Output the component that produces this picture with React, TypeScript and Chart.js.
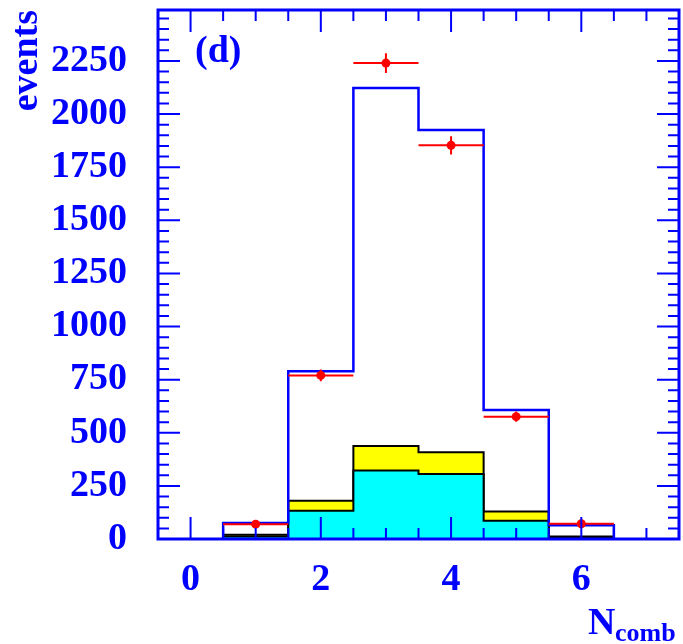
import React, { useEffect, useRef } from "react";
import { Chart, registerables } from "chart.js";

Chart.register(...registerables);

// ---------- data ----------
const binCenters = [1, 2, 3, 4, 5, 6];
const binWidth = 1;
const dataCounts = [70, 770, 2240, 1853, 576, 72];
const dataErrors = [8, 28, 47, 43, 24, 8.5];
const mcTotal = [75, 790, 2123, 1925, 607, 65];
const bkgYellow = [20, 180, 438, 408, 129, 12];
const bkgCyan = [12, 133, 322, 306, 86, 7];
const xTickLabels = [0, 2, 4, 6];
const yTickLabels = [0, 250, 500, 750, 1000, 1250, 1500, 1750, 2000, 2250];
const xRange = [-0.5, 7.5];
const yRange = [0, 2490];

const BLUE = "#0000ff";
const RED = "#ff0000";
const FONT = "'Liberation Serif', 'Times New Roman', serif";

function stepPoints(values: number[]) {
  const pts = [{ x: binCenters[0] - binWidth / 2, y: 0 }];
  values.forEach((v, i) => pts.push({ x: binCenters[i] - binWidth / 2, y: v }));
  pts.push({ x: binCenters[binCenters.length - 1] + binWidth / 2, y: 0 });
  return pts;
}

const errorBarPlugin = {
  id: "errorBars",
  afterDatasetsDraw(chart: any) {
    const { ctx, scales } = chart;
    const x = scales.x;
    const y = scales.y;
    ctx.save();
    ctx.strokeStyle = RED;
    ctx.lineWidth = 2;
    binCenters.forEach((c, i) => {
      const px = x.getPixelForValue(c);
      const py = y.getPixelForValue(dataCounts[i]);
      ctx.beginPath();
      ctx.moveTo(x.getPixelForValue(c - binWidth / 2), py);
      ctx.lineTo(x.getPixelForValue(c + binWidth / 2), py);
      ctx.moveTo(px, y.getPixelForValue(dataCounts[i] - dataErrors[i]));
      ctx.lineTo(px, y.getPixelForValue(dataCounts[i] + dataErrors[i]));
      ctx.stroke();
      ctx.beginPath();
      ctx.fillStyle = RED;
      ctx.arc(px, py, 4.5, 0, Math.PI * 2);
      ctx.fill();
    });
    ctx.restore();
  },
};

const framePlugin = {
  id: "frame",
  afterDraw(chart: any) {
    const { ctx, chartArea: a, scales } = chart;
    const x = scales.x;
    const y = scales.y;
    ctx.save();
    ctx.strokeStyle = BLUE;
    ctx.lineWidth = 2;
    ctx.beginPath();
    // x ticks (bottom & top)
    for (let v = xRange[0]; v <= xRange[1] + 1e-9; v += 0.5) {
      const px = x.getPixelForValue(v);
      const len = xTickLabels.includes(v) ? 22 : 11;
      ctx.moveTo(px, a.bottom);
      ctx.lineTo(px, a.bottom - len);
      ctx.moveTo(px, a.top);
      ctx.lineTo(px, a.top + len);
    }
    // y ticks (left & right)
    for (let v = yRange[0]; v <= yRange[1]; v += 50) {
      const py = y.getPixelForValue(v);
      const len = v % 250 === 0 ? 22 : 11;
      ctx.moveTo(a.left, py);
      ctx.lineTo(a.left + len, py);
      ctx.moveTo(a.right, py);
      ctx.lineTo(a.right - len, py);
    }
    ctx.stroke();
    ctx.lineWidth = 3;
    ctx.strokeRect(a.left, a.top, a.right - a.left, a.bottom - a.top);

    // texts
    ctx.fillStyle = BLUE;
    ctx.font = `bold 38px ${FONT}`;
    ctx.textBaseline = "alphabetic";
    ctx.textAlign = "left";
    ctx.fillText("(d)", 195, 62);

    ctx.fillText("N", 588, 634);
    ctx.font = `bold 26px ${FONT}`;
    ctx.fillText("comb", 615, 641);

    ctx.save();
    ctx.font = `bold 38px ${FONT}`;
    ctx.translate(37, 10);
    ctx.rotate(-Math.PI / 2);
    ctx.textAlign = "right";
    ctx.fillText("events", 0, 0);
    ctx.restore();

    ctx.restore();
  },
};

export default function App() {
  const ref = useRef<HTMLCanvasElement>(null);
  useEffect(() => {
    if (!ref.current) return;
    const tickFont = { family: FONT, size: 38, weight: "bold" as const };
    const chart = new Chart(ref.current, {
      type: "line",
      data: {
        datasets: [
          {
            label: "data",
            data: binCenters.map((c, i) => ({ x: c, y: dataCounts[i] })),
            showLine: false,
            pointRadius: 0,
            borderColor: RED,
            backgroundColor: RED,
            order: 0,
          },
          {
            label: "MC total",
            data: stepPoints(mcTotal),
            stepped: "before",
            borderColor: BLUE,
            borderWidth: 2.5,
            pointRadius: 0,
            fill: false,
            order: 1,
          },
          {
            label: "cyan",
            data: stepPoints(bkgCyan),
            stepped: "before",
            borderColor: "#000000",
            borderWidth: 2,
            backgroundColor: "#00ffff",
            pointRadius: 0,
            fill: "origin",
            order: 2,
          },
          {
            label: "yellow",
            data: stepPoints(bkgYellow),
            stepped: "before",
            borderColor: "#000000",
            borderWidth: 2,
            backgroundColor: "#ffff00",
            pointRadius: 0,
            fill: "origin",
            order: 3,
          },
        ],
      },
      options: {
        animation: false,
        responsive: false,
        maintainAspectRatio: false,
        layout: { padding: { top: 10, right: 4, left: 0, bottom: 0 } },
        plugins: { legend: { display: false }, tooltip: { enabled: false } },
        scales: {
          x: {
            type: "linear",
            min: xRange[0],
            max: xRange[1],
            grid: { display: false, drawTicks: false },
            border: { display: false },
            afterBuildTicks: (s: any) => {
              s.ticks = xTickLabels.map((v) => ({ value: v }));
            },
            afterFit: (s: any) => {
              s.height = 105;
              s.paddingLeft = 0;
              s.paddingRight = 0;
            },
            ticks: {
              font: tickFont,
              color: BLUE,
              padding: 18,
              maxRotation: 0,
              autoSkip: false,
              callback: (v: any) => String(v),
            },
          },
          y: {
            type: "linear",
            min: yRange[0],
            max: yRange[1],
            grid: { display: false, drawTicks: false },
            border: { display: false },
            afterBuildTicks: (s: any) => {
              s.ticks = yTickLabels.map((v) => ({ value: v }));
            },
            afterFit: (s: any) => {
              s.width = 158;
              s.paddingTop = 0;
              s.paddingBottom = 0;
            },
            ticks: {
              font: tickFont,
              color: BLUE,
              padding: 31,
              autoSkip: false,
              callback: (v: any) => String(v),
            },
          },
        },
      },
      plugins: [errorBarPlugin, framePlugin],
    } as any);
    return () => chart.destroy();
  }, []);
  return (
    <div style={{ position: "fixed", left: 0, top: 0, width: 683, height: 644, background: "#fff" }}>
      <canvas ref={ref} width={683} height={644} style={{ width: 683, height: 644 }} />
    </div>
  );
}
